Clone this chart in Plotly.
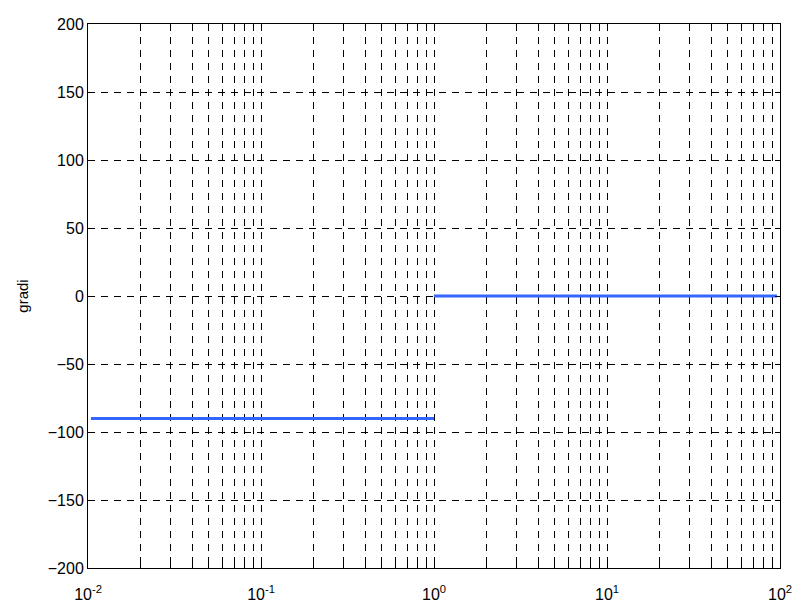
import plotly.graph_objects as go

# data
freq_low = [0.0104, 1.0]
phase_low = [-90, -90]
freq_high = [1.0, 96.0]
phase_high = [0, 0]

x_tickvals = [m * 10 ** e for e in range(-2, 2) for m in range(1, 10)] + [100]
x_ticktext = [("10<sup>%d</sup>" % e if m == 1 else "") for e in range(-2, 2) for m in range(1, 10)] + ["10<sup>2</sup>"]
y_tickvals = [-200, -150, -100, -50, 0, 50, 100, 150, 200]
y_label = "gradi"

line_color = "#3366ff"
font_family = "Liberation Sans, Arial"

fig = go.Figure()
fig.add_trace(go.Scatter(x=freq_low, y=phase_low, mode="lines",
                         line=dict(color=line_color, width=3), showlegend=False))
fig.add_trace(go.Scatter(x=freq_high, y=phase_high, mode="lines",
                         line=dict(color=line_color, width=3), showlegend=False))

axis_common = dict(showline=True, linecolor="black", linewidth=1, mirror="ticks",
                   ticks="inside", ticklen=5, tickcolor="black",
                   showgrid=True, gridcolor="black", gridwidth=1, griddash="7px,6px",
                   zeroline=False, automargin=False,
                   tickfont=dict(family=font_family, size=16, color="black"))

fig.update_xaxes(type="log", range=[-2, 2], tickmode="array", tickvals=x_tickvals,
                 ticktext=x_ticktext, ticklabelstandoff=12, **axis_common)
fig.update_yaxes(range=[-200, 200], tickmode="array", tickvals=y_tickvals,
                 title=dict(text=y_label, font=dict(family=font_family, size=15, color="black"), standoff=15),
                 **axis_common)

fig.update_layout(width=798, height=606, margin=dict(l=88, r=18, t=24, b=38),
                  paper_bgcolor="white", plot_bgcolor="white",
                  font=dict(family=font_family, size=16, color="black"))

fig.write_html("out.html", config={"displayModeBar": False},
               post_script="document.body.style.margin='0';document.body.style.overflow='hidden';")
